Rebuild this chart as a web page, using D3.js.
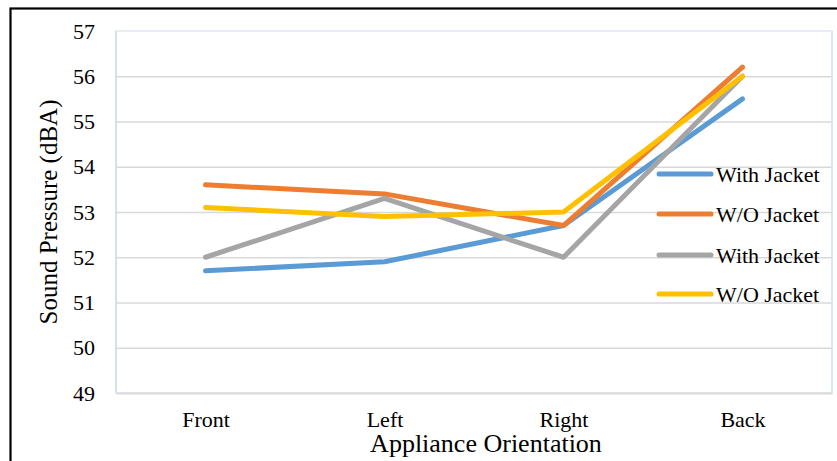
<!DOCTYPE html>
<html>
<head>
<meta charset="utf-8">
<script src="https://cdn.jsdelivr.net/npm/d3@7"></script>
<style>
html,body{margin:0;padding:0;background:#fff;}
svg{display:block;}
text{font-family:"Liberation Serif","Times New Roman",serif;fill:#000;}
</style>
</head>
<body>
<svg id="chart" width="837" height="461"></svg>
<script>
const categories = ["Front", "Left", "Right", "Back"];
const seriesNames = ["With Jacket", "W/O Jacket", "With Jacket", "W/O Jacket"];
const seriesColors = ["#5b9bd5", "#ed7d31", "#a5a5a5", "#ffc000"];
const withJacket1 = [51.7, 51.9, 52.7, 55.5];
const withoutJacket1 = [53.6, 53.4, 52.7, 56.2];
const withJacket2 = [52.0, 53.3, 52.0, 56.0];
const withoutJacket2 = [53.1, 52.9, 53.0, 56.0];
const yTicks = [49, 50, 51, 52, 53, 54, 55, 56, 57];
const xTitle = "Appliance Orientation";
const yTitle = "Sound Pressure (dBA)";

const seriesValues = [withJacket1, withoutJacket1, withJacket2, withoutJacket2];

const svg = d3.select("#chart");
const W = 837, H = 461;
const plot = {left: 116, top: 31, right: 832, bottom: 393};

// outer frame
svg.append("rect").attr("x", 10.5).attr("y", 8.5).attr("width", W + 10).attr("height", H + 10)
  .attr("fill", "none").attr("stroke", "#000").attr("stroke-width", 2.2);

const x = d3.scalePoint().domain(categories).range([plot.left, plot.right]).padding(0.5);
const y = d3.scaleLinear().domain([49, 57]).range([plot.bottom, plot.top]);

// plot area border (light)
svg.append("rect").attr("x", plot.left).attr("y", plot.top)
  .attr("width", plot.right - plot.left).attr("height", plot.bottom - plot.top)
  .attr("fill", "none").attr("stroke", "#dde8f4").attr("stroke-width", 1.5);

// gridlines
const grid = svg.append("g")
  .attr("transform", `translate(${plot.left},0)`)
  .call(d3.axisLeft(y).tickValues(yTicks.filter(t => t > 49 && t < 57)).tickSize(-(plot.right - plot.left)).tickFormat(""));
grid.select(".domain").remove();
grid.selectAll("line").attr("stroke", "#d9d9d9").attr("stroke-width", 1.5);

// left / right plot edges light blue
svg.append("line").attr("x1", plot.left).attr("x2", plot.left).attr("y1", plot.top).attr("y2", plot.bottom)
  .attr("stroke", "#c9dcef").attr("stroke-width", 1.5);
svg.append("line").attr("x1", plot.right).attr("x2", plot.right).attr("y1", plot.top).attr("y2", plot.bottom)
  .attr("stroke", "#d4e3f2").attr("stroke-width", 1.5);

// bottom axis
const xAxis = svg.append("g")
  .attr("transform", `translate(0,${plot.bottom})`)
  .call(d3.axisBottom(x).tickSize(0).tickPadding(18));
xAxis.select(".domain").attr("stroke", "#d9d9d9").attr("stroke-width", 2);
xAxis.selectAll("text").attr("font-size", 22).attr("fill", "#000");

// y tick labels
const yAxis = svg.append("g")
  .attr("transform", `translate(${plot.left},0)`)
  .call(d3.axisLeft(y).tickValues(yTicks).tickSize(0).tickPadding(21).tickFormat(d3.format("d")));
yAxis.select(".domain").remove();
yAxis.selectAll("text").attr("font-size", 22).attr("fill", "#000");

// lines
const line = d3.line().x((d, i) => x(categories[i])).y(d => y(d));
seriesValues.forEach((vals, k) => {
  svg.append("path").datum(vals).attr("d", line)
    .attr("fill", "none").attr("stroke", seriesColors[k]).attr("stroke-width", 5)
    .attr("stroke-linecap", "round").attr("stroke-linejoin", "round");
});

// legend
const legendY = [174, 214, 255, 294];
seriesNames.forEach((name, k) => {
  const g = svg.append("g").attr("transform", `translate(0,${legendY[k]})`);
  g.append("line").attr("x1", 659).attr("x2", 711).attr("y1", 0).attr("y2", 0)
    .attr("stroke", seriesColors[k]).attr("stroke-width", 5).attr("stroke-linecap", "round");
  g.append("text").attr("x", 716).attr("y", 0).attr("dy", "0.35em")
    .attr("font-size", 22).text(name);
});

// axis titles
svg.append("text").attr("x", 486).attr("y", 452).attr("text-anchor", "middle")
  .attr("font-size", 26).text(xTitle);
svg.append("text").attr("transform", `translate(57,212) rotate(-90)`).attr("text-anchor", "middle")
  .attr("font-size", 25).text(yTitle);
</script>
</body>
</html>
